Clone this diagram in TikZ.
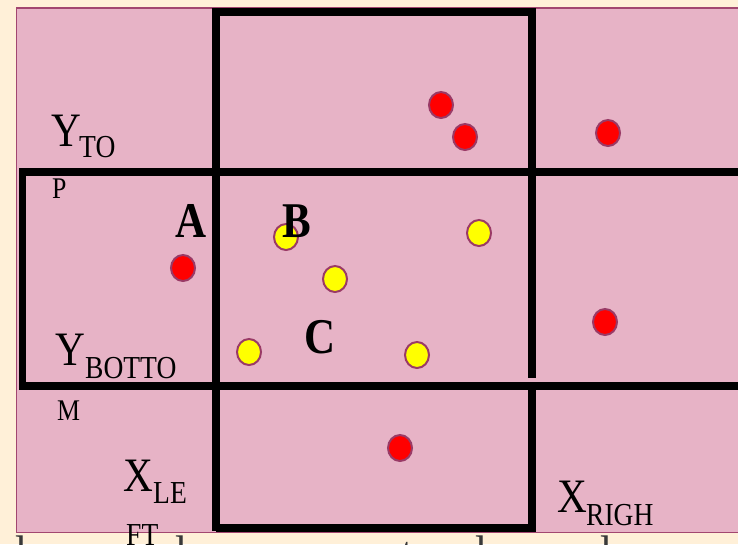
\documentclass[tikz,border=0pt]{standalone}
\usepackage{fontspec}
\setmainfont{Liberation Serif}[FakeStretch=0.86]
\usetikzlibrary{shapes.geometric}
\definecolor{cream}{HTML}{FFF0D8}
\definecolor{pinkf}{HTML}{E7B3C6}
\definecolor{pinkb}{HTML}{A24670}
\definecolor{dotb}{HTML}{9A3A66}
\definecolor{redf}{HTML}{FF0000}
\definecolor{yelf}{HTML}{FFFF00}
\definecolor{fragc}{HTML}{3A3A3A}
\tikzset{
  grid/.style={line width=7.5pt, line join=miter, black},
  reddot/.style={ellipse, draw=dotb, line width=2pt, fill=redf, minimum width=24pt, minimum height=26pt, inner sep=0pt},
  yeldot/.style={ellipse, draw=dotb, line width=2pt, fill=yelf, minimum width=24pt, minimum height=26pt, inner sep=0pt},
  big/.style={inner sep=0pt, anchor=base west, font=\fontsize{48}{50}\selectfont},
  sub/.style={inner sep=0pt, anchor=base west, font=\fontsize{32}{34}\selectfont},
  small/.style={inner sep=0pt, anchor=base west, font=\fontsize{30}{32}\selectfont},
  boldlab/.style={inner sep=0pt, anchor=base west, font=\fontsize{50}{52}\selectfont\bfseries},
  frag/.style={inner sep=0pt, anchor=base west, text=fragc, font=\fontsize{50}{52}\selectfont}
}
\begin{document}
\begin{tikzpicture}[x=1pt,y=-1pt]
\useasboundingbox (0,0) rectangle (738,544);
\clip (0,0) rectangle (738,544);
\fill[cream] (0,0) rectangle (738,544);
\draw[pinkb, fill=pinkf, line width=1.5pt] (16.5,8) rectangle (745,532.5);

% grid of thick lines
\coordinate (tl) at (216,12);
\coordinate (tr) at (532,12);
\draw[grid] (216,531) -- (tl) -- (tr) -- (532,378);
\draw[grid] (216,528) -- (532,528) -- (532,386);
\draw[grid] (19,172) -- (745,172);
\draw[grid] (19,386) -- (745,386);
\draw[grid] (22.5,172) -- (22.5,386);

% red dots
\node[reddot] (r1) at (441,105) {};
\node[reddot] (r2) at (465,137) {};
\node[reddot] (r3) at (608,133) {};
\node[reddot] (r4) at (605,322) {};
\node[reddot] (r5) at (183,268) {};
\node[reddot] (r6) at (400,448) {};

% yellow dots
\node[yeldot] (y1) at (286,237) {};
\node[yeldot] (y2) at (479,233) {};
\node[yeldot] (y3) at (335,279) {};
\node[yeldot] (y4) at (249,352) {};
\node[yeldot] (y5) at (417,355) {};

% labels
\node[big] (ytop) at (51,146) {Y};
\node[sub] (ytops) at (79,157) {TO};
\node[small] (ytopp) at (52,198) {P};
\node[big] (ybot) at (55,365) {Y};
\node[sub] (ybots) at (85,378) {BOTTO};
\node[small] (ybotm) at (57,420) {M};
\node[big] (xleft) at (123,491) {X};
\node[sub] (xlefts) at (153,503) {LE};
\node[sub] (xleftt) at (126,545) {FT};
\node[big] (xright) at (557,512) {X};
\node[sub] (xrights) at (586,525) {RIGH};
\node[boldlab] (la) at (175,237) {A};
\node[boldlab] (lb) at (282,237) {B};
\node[boldlab] (lc) at (304,353) {C};

% cut-off text at the bottom edge
\node[frag] (f1) at (15,570) {l};
\node[frag] (f2) at (175,570) {l};
\node[frag] (f3) at (401,570) {t};
\node[frag] (f4) at (475,570) {l};
\node[frag] (f5) at (600,570) {l};
\end{tikzpicture}
\end{document}
